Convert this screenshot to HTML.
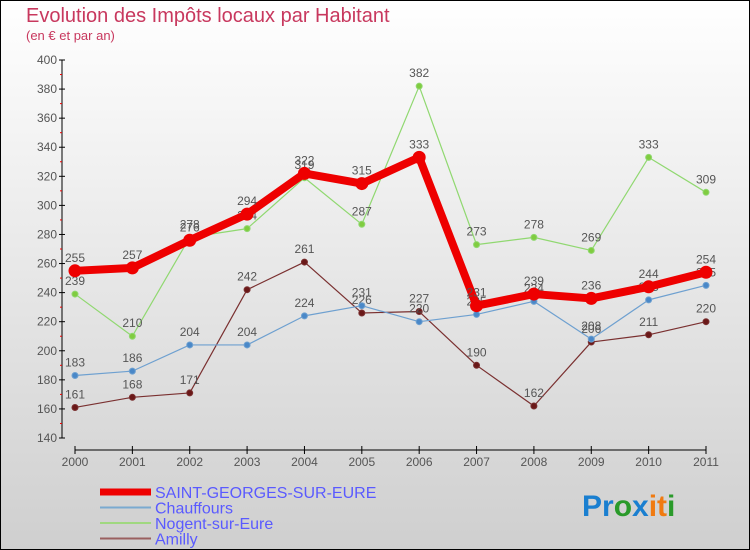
<!DOCTYPE html>
<html><head><meta charset="utf-8"><style>
body{margin:0}
svg{display:block;font-family:"Liberation Sans",sans-serif}
</style></head><body>
<svg width="750" height="550" viewBox="0 0 750 550">
<defs><linearGradient id="bg" x1="0" y1="0" x2="0" y2="1"><stop offset="0" stop-color="#ffffff"/><stop offset="1" stop-color="#cfcfcf"/></linearGradient></defs>
<rect x="0.5" y="0.5" width="749" height="549" fill="url(#bg)" stroke="#000"/>
<text x="26" y="22" font-size="20" fill="#c8385e">Evolution des Impôts locaux par Habitant</text>
<text x="26" y="40" font-size="13" fill="#c8385e">(en € et par an)</text>
<g id="axes"></g>
<g id="series"></g>
<g id="legend"></g>
<text x="582" y="516" font-size="30" font-weight="bold"><tspan fill="#1a7fd0">Pr</tspan><tspan fill="#2a9a2a">o</tspan><tspan fill="#1a7fd0">x</tspan><tspan fill="#f07a10">it</tspan><tspan fill="#2a9a2a">i</tspan></text>
</svg>
<script>
const years=["2000","2001","2002","2003","2004","2005","2006","2007","2008","2009","2010","2011"];
const yTicks=[140,160,180,200,220,240,260,280,300,320,340,360,380,400];
const saint=[255,257,276,294,322,315,333,231,239,236,244,254];
const chauffours=[183,186,204,204,224,231,220,225,234,208,235,245];
const nogent=[239,210,278,284,319,287,382,273,278,269,333,309];
const amilly=[161,168,171,242,261,226,227,190,162,206,211,220];
const NS="http://www.w3.org/2000/svg";
const x0=75,x1=706,yTop=60,yBot=438,vMin=140,vMax=400;
const X=i=>x0+i*(x1-x0)/(years.length-1);
const Y=v=>yBot-(v-vMin)*(yBot-yTop)/(vMax-vMin);
function mk(t,a,p){const e=document.createElementNS(NS,t);for(const k in a)e.setAttribute(k,a[k]);p.appendChild(e);return e;}
const ax=document.getElementById('axes');
let yl=mk('line',{x1:62,y1:yTop,x2:62,y2:yBot,stroke:'#000'},ax);


yTicks.forEach(v=>{const y=Y(v);
 mk('line',{x1:59,y1:y,x2:65,y2:y,stroke:'#000'},ax);
 const mid=Y(v+10); if(v<vMax) mk('line',{x1:60,y1:mid,x2:62,y2:mid,stroke:'#e00'},ax);
 const t=mk('text',{x:57,y:y+4,'font-size':12,fill:'#555','text-anchor':'end'},ax);t.textContent=v;
 
 });
let xl=mk('line',{x1:x0,y1:450,x2:x1,y2:450,stroke:'#000'},ax);


years.forEach((yr,i)=>{const x=X(i);mk('line',{x1:x,y1:446,x2:x,y2:454,stroke:'#000'},ax);
 const t=mk('text',{x:x,y:466,'font-size':12,fill:'#555','text-anchor':'middle'},ax);t.textContent=yr;
 
 });
const sg=document.getElementById('series');
function series(name,data,color,w,r,dot){
 const g=mk('g',{},sg);
 
 
 mk('polyline',{points:data.map((v,i)=>X(i)+','+Y(v)).join(' '),fill:'none',stroke:color,'stroke-width':w,'stroke-linejoin':'round'},g);
 data.forEach((v,i)=>{const c=mk('circle',{cx:X(i),cy:Y(v),r:r,fill:dot,stroke:color,'stroke-width':1},g);
  
  
  const t=mk('text',{x:X(i),y:Y(v)-9,'font-size':12,fill:'#555','text-anchor':'middle'},g);t.textContent=v;
  
  });
}
series('amilly',amilly,'#7a3030',1.2,3,'#6a1818');
series('nogent',nogent,'#90d870',1.2,3,'#80cc40');
series('chauffours',chauffours,'#6ea0d0',1.2,3,'#4a88c8');
series('saint-georges',saint,'#ee0000',8,6,'#ee0000');
const lg=document.getElementById('legend');
const items=[['SAINT-GEORGES-SUR-EURE','#ee0000',7],['Chauffours','#7aaad0',2],['Nogent-sur-Eure','#a0d880',2],['Amilly','#9a6060',2]];
items.forEach((it,i)=>{const y=492+i*15.5;
 const l=mk('line',{x1:100,y1:y,x2:151,y2:y,stroke:it[1],'stroke-width':it[2]},lg);
 
 
 const t=mk('text',{x:155,y:y+6,'font-size':16,fill:'#5a5aff'},lg);t.textContent=it[0];
 
 });
</script>
</body></html>
